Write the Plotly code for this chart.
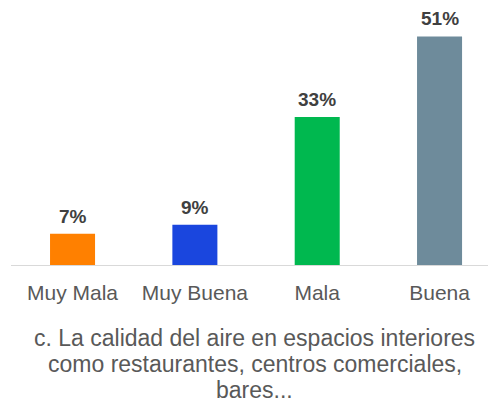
import plotly.graph_objects as go

# Survey answers for item (c): indoor air quality
categories = ["Muy Mala", "Muy Buena", "Mala", "Buena"]
percentages = [7, 9, 33, 51]
bar_colors = ["#FF8000", "#1A46DE", "#00B84F", "#6E8B9B"]
caption_lines = [
    "c. La calidad del aire en espacios interiores",
    "como restaurantes, centros comerciales,",
    "bares...",
]

FONT = "Liberation Sans, Arial, sans-serif"

fig = go.Figure(
    go.Bar(
        x=categories,
        y=percentages,
        marker=dict(color=bar_colors, line=dict(width=0)),
        hoverinfo="skip",
    )
)

# Value labels above each bar
for cat, val in zip(categories, percentages):
    fig.add_annotation(
        x=cat, y=val, xref="x", yref="y",
        text=f"<b>{val}%</b>",
        showarrow=False, yanchor="bottom", yshift=5,
        font=dict(family=FONT, size=19, color="#404040"),
    )

# Caption below the axis, one line per annotation
caption_y = [338, 364, 390]
for line, py in zip(caption_lines, caption_y):
    fig.add_annotation(
        x=0.5, y=(265 - py) / 255, xref="paper", yref="paper",
        text=line, showarrow=False, xshift=5,
        xanchor="center", yanchor="middle",
        font=dict(family=FONT, size=23, color="#595959"),
    )

fig.update_layout(
    width=488, height=403,
    margin=dict(l=11, r=0, t=10, b=138),
    paper_bgcolor="white", plot_bgcolor="white",
    bargap=0.632,
    showlegend=False,
    xaxis=dict(
        range=[-0.503, 3.396],
        showline=True, linecolor="#D9D9D9", linewidth=1,
        showgrid=False, ticks="",
        ticklabelstandoff=9,
        tickfont=dict(family=FONT, size=21, color="#595959"),
        fixedrange=True,
    ),
    yaxis=dict(
        range=[0, 56.9], visible=False, fixedrange=True,
    ),
)

fig.write_html("out.html")
